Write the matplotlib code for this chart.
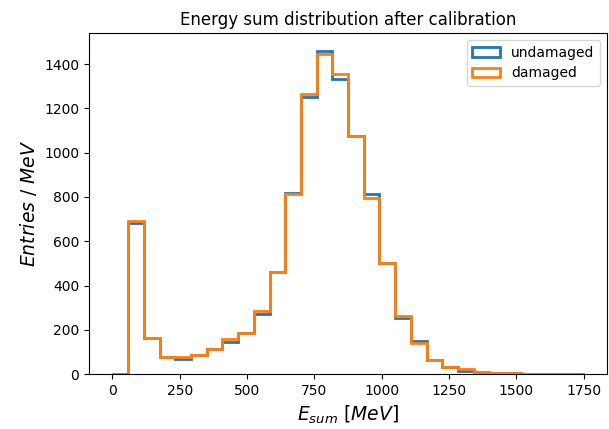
import numpy as np
import matplotlib.pyplot as plt

# histogram bin edges (30 bins, 0..1750 MeV)
edges = np.linspace(0, 1750, 31)

undamaged = [0, 680, 163, 78, 67, 86, 114, 145, 184, 271,
             462, 819, 1251, 1459, 1334, 1075, 812, 500, 252, 149,
             63, 32, 12, 8, 4, 4, 1, 1, 1, 1]
damaged = [0, 691, 163, 78, 78, 86, 114, 157, 184, 285,
           462, 812, 1266, 1444, 1354, 1075, 796, 500, 262, 139,
           63, 32, 21, 8, 4, 4, 1, 1, 1, 1]

centers = 0.5 * (edges[:-1] + edges[1:])

fig = plt.figure(figsize=(6.09, 4.29), dpi=100)
ax = fig.add_axes([0.146, 0.128, 0.851, 0.795])

ax.hist(centers, bins=edges, weights=undamaged, histtype='step', linewidth=2, label='undamaged')
ax.hist(centers, bins=edges, weights=damaged, histtype='step', linewidth=2, label='damaged')

ax.set_title('Energy sum distribution after calibration')
ax.set_xlabel('$E_{sum}$ $[MeV]$', fontsize=13.5)
ax.set_ylabel('$Entries$ / $MeV$', fontsize=13.5)
ax.set_ylim(0, 1540)
ax.legend(loc='upper right')

fig.savefig('out.png', dpi=100)
